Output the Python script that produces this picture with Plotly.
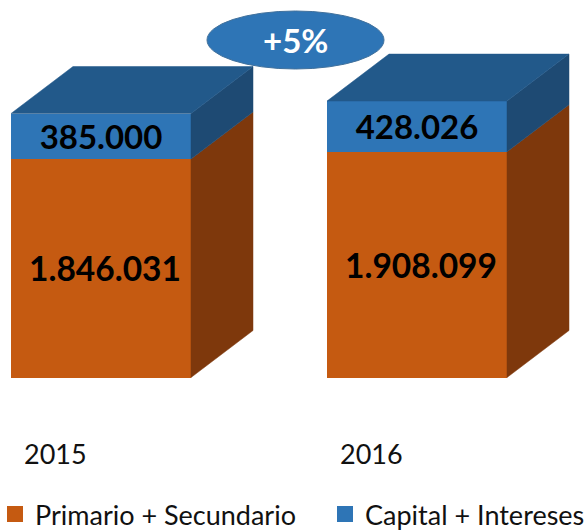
import plotly.graph_objects as go

years = ["2015", "2016"]
primario = [1846031, 1908099]
capital = [385000, 428026]
labels_primario = ["1.846.031", "1.908.099"]
labels_capital = ["385.000", "428.026"]
series_names = ["Primario + Secundario", "Capital + Intereses"]
badge_text = "+5%"

W, H = 586, 531
FONT = "Lato, Carlito, Calibri, sans-serif"
ORANGE, ORANGE_SIDE = "#C55A11", "#7E380C"
BLUE, BLUE_TOP, BLUE_SIDE = "#2E75B6", "#22598A", "#1E4A73"

# axis mapping
px_per_cat = 316
val_per_px = 8451
x0_px, y0_px = 101, 377.5
xr = [-x0_px / px_per_cat, (W - x0_px) / px_per_cat]
yr = [(y0_px - H) * val_per_px, y0_px * val_per_px]
bar_w = 180 / px_per_cat
dx = 62 / px_per_cat
dy = 47 * val_per_px

xs = list(range(len(years)))
fig = go.Figure()


def poly(xv, yv, color):
    fig.add_trace(go.Scatter(x=xv, y=yv, mode="lines", fill="toself", fillcolor=color,
                             line=dict(width=0.5, color=color), showlegend=False, hoverinfo="skip"))


for x, p, c in zip(xs, primario, capital):
    r = x + bar_w / 2
    l = x - bar_w / 2
    t = p + c
    poly([r, r + dx, r + dx, r, r], [0, dy, p + dy, p, 0], ORANGE_SIDE)
    poly([r, r + dx, r + dx, r, r], [p, p + dy, t + dy, t, p], BLUE_SIDE)
    poly([l, l + dx, r + dx, r, l], [t, t + dy, t + dy, t, t], BLUE_TOP)

fig.add_trace(go.Bar(x=xs, y=primario, width=bar_w, marker=dict(color=ORANGE, line=dict(width=0)),
                     showlegend=False, name=series_names[0]))
fig.add_trace(go.Bar(x=xs, y=capital, width=bar_w, marker=dict(color=BLUE, line=dict(width=0)),
                     text=labels_capital, textposition="inside", insidetextanchor="middle",
                     textangle=0, constraintext="none",
                     textfont=dict(family=FONT, size=33, color="black", weight="bold"),
                     showlegend=False, name=series_names[1]))

for x, p, lab in zip(xs, primario, labels_primario):
    fig.add_annotation(x=x, y=p / 2, text=lab, showarrow=False, xshift=4, yanchor="middle",
                       font=dict(family=FONT, size=33.5, color="black", weight="bold"))

for name, color, lg in zip(series_names, [ORANGE, BLUE], ["legend", "legend2"]):
    fig.add_trace(go.Scatter(x=[None], y=[None], mode="markers", name=name, legend=lg,
                             marker=dict(symbol="square", size=16, color=color)))

for x, y in zip(xs, years):
    fig.add_annotation(x=x, y=-76 * val_per_px, text=y, showarrow=False, xshift=-46,
                       font=dict(family=FONT, size=27, color="#111111"))

fig.add_shape(type="circle", xref="paper", yref="paper", x0=207 / W, x1=384 / W,
              y0=1 - 69 / H, y1=1 - 11 / H, fillcolor=BLUE, line=dict(color="#41719C", width=1))
fig.add_annotation(xref="paper", yref="paper", x=295.5 / W, y=1 - 40 / H, text="<b>" + badge_text + "</b>",
                   yanchor="middle", xanchor="center",
                   showarrow=False, font=dict(family=FONT, size=33, color="white"))

legend_style = dict(yanchor="bottom", xanchor="left", y=-0.015, bgcolor="rgba(0,0,0,0)",
                    font=dict(family=FONT, size=27, color="#111111"), itemwidth=30)
fig.update_layout(
    width=W, height=H, margin=dict(l=0, r=0, t=0, b=0, autoexpand=False), barmode="stack",
    plot_bgcolor="white", paper_bgcolor="white", font=dict(family=FONT),
    xaxis=dict(range=xr, visible=False, fixedrange=True),
    yaxis=dict(range=yr, visible=False, fixedrange=True),
    legend=dict(x=-5 / W, **legend_style),
    legend2=dict(x=325 / W, **legend_style),
)
fig.write_html("out.html", post_script="document.body.style.margin='0';",
               config=dict(displayModeBar=False))
